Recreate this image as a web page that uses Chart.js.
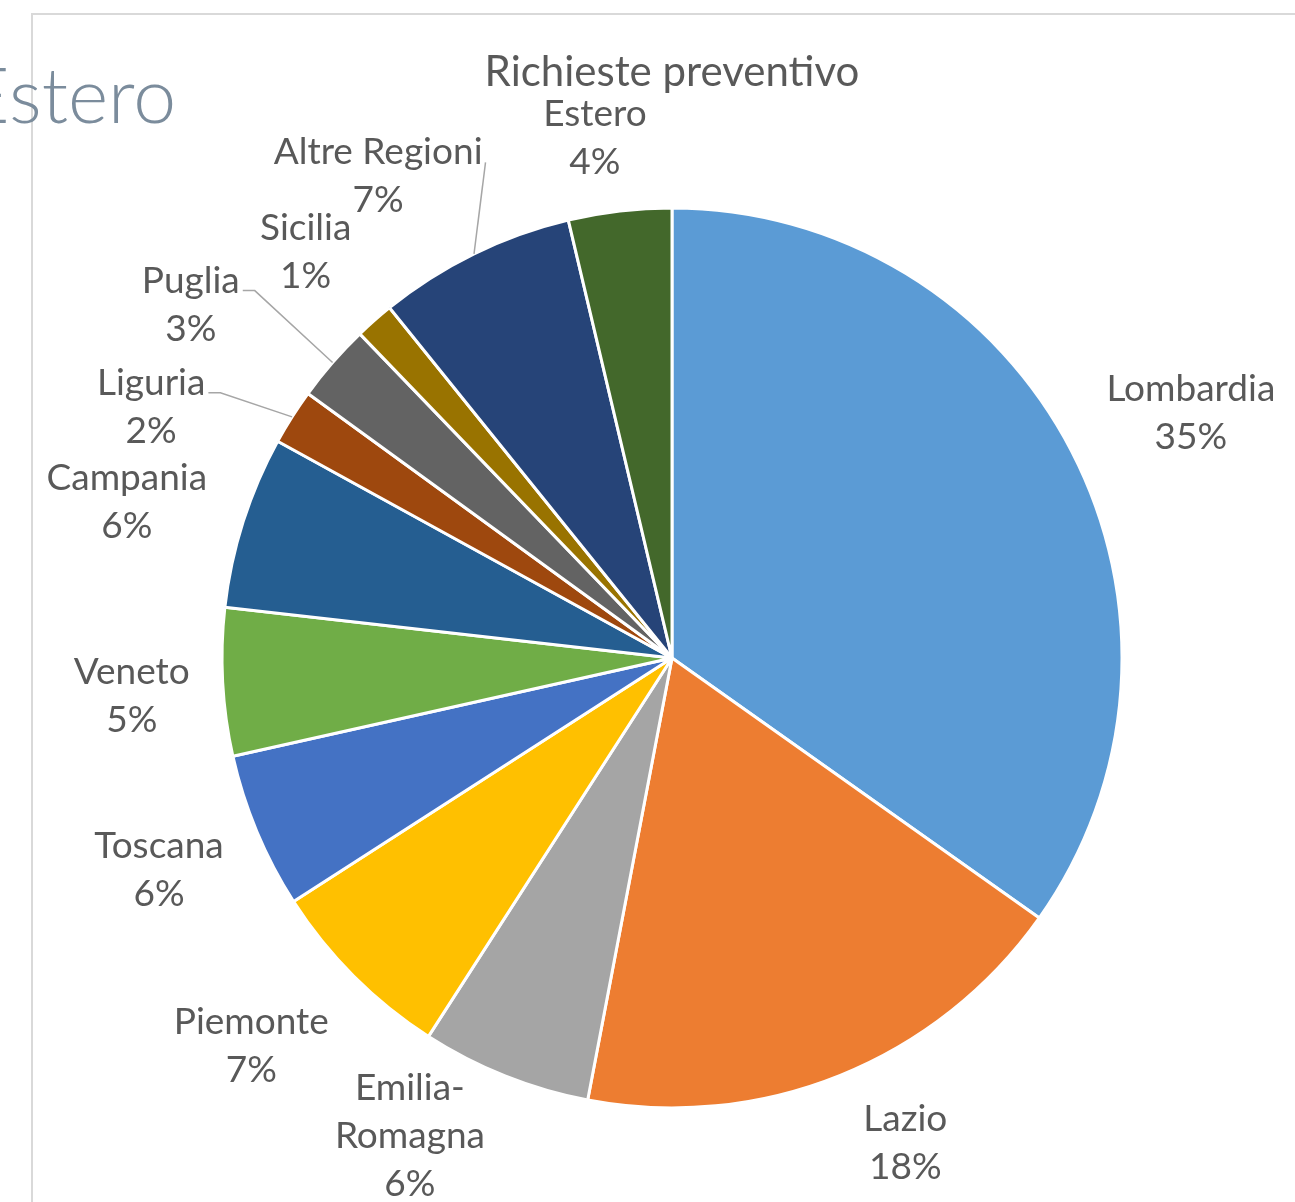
<!DOCTYPE html>
<html lang="it">
<head>
<meta charset="UTF-8">
<title>Richieste preventivo</title>
<script src="https://cdn.jsdelivr.net/npm/chart.js"></script>
<style>
    body { margin: 0; background: #fff; overflow: hidden; }
    .wrap { position: relative; width: 1295px; height: 1202px; overflow: hidden; }
    /* bordo del grafico excel */
    .frame {
        position: absolute; left: 31px; top: 13px; width: 2000px; height: 2000px;
        border-top: 2px solid #d9d9d9; border-left: 2px solid #d9d9d9;
    }
    /* titolo della slide dietro, tagliato */
    .slide-title {
        position: absolute; left: -35px; top: 55px;
        font-family: Lato, sans-serif; font-weight: 300; font-size: 77px; line-height: 1;
        color: #7b8c9c;
    }
    .box { position: absolute; left: 0; top: 0; width: 1295px; height: 1202px; }
</style>
</head>
<body>
<div class="wrap">
    <div class="frame"></div>
    <div class="slide-title">Estero</div>
    <div class="box"><canvas id="myChart"></canvas></div>
</div>
<script>
    const categories = ['Lombardia', 'Lazio', 'Emilia-Romagna', 'Piemonte', 'Toscana', 'Veneto',
        'Campania', 'Liguria', 'Puglia', 'Sicilia', 'Altre Regioni', 'Estero'];
    const values = [34.8, 18.2, 6.1, 6.8, 5.6, 5.3, 6.2, 2.0, 2.8, 1.4, 7.1, 3.7];
    const colors = ['#5B9BD5', '#ED7D31', '#A5A5A5', '#FFC000', '#4472C4', '#70AD47',
        '#255E91', '#9E480E', '#636363', '#997300', '#264478', '#43682B'];
    const chartTitle = 'Richieste preventivo';

    // spostamenti delle etichette affollate (px) e quali hanno la linea guida
    const labelNudge = {
        'Lombardia': [22, -5], 'Lazio': [40, 0], 'Emilia-Romagna': [-58, -30], 'Piemonte': [-30, 18],
        'Toscana': [-15, 10], 'Veneto': [-8, 10], 'Campania': [-16, 3],
        'Liguria': [-74, 29], 'Puglia': [-86, -10], 'Sicilia': [-22, -14], 'Altre Regioni': [-39, -12],
        'Estero': [-16, 0]
    };
    const leaders = ['Liguria', 'Puglia', 'Altre Regioni'];

    const FONT = '37px Lato';
    const LINE_H = 48;
    const GAP = 25;

    const outerLabels = {
        id: 'outerLabels',
        afterDatasetsDraw(chart) {
            const ctx = chart.ctx;
            const meta = chart.getDatasetMeta(0);
            const total = values.reduce((a, b) => a + b, 0);
            ctx.save();
            ctx.font = FONT;
            ctx.fillStyle = '#595959';
            ctx.textAlign = 'center';
            ctx.textBaseline = 'middle';
            meta.data.forEach((arc, i) => {
                const p = arc.getProps(['x', 'y', 'startAngle', 'endAngle', 'outerRadius'], true);
                const mid = (p.startAngle + p.endAngle) / 2;
                const ux = Math.cos(mid), uy = Math.sin(mid);
                const name = categories[i];
                const lines = name.includes('-') ? [name.split('-')[0] + '-', name.split('-')[1]] : [name];
                lines.push(Math.round(values[i] / total * 100) + '%');
                const w = Math.max(...lines.map(l => ctx.measureText(l).width));
                const h = lines.length * LINE_H;
                let cx = p.x + ux * (p.outerRadius + GAP) + ux * w / 2;
                let cy = p.y + uy * (p.outerRadius + GAP) + uy * h / 2;
                const n = labelNudge[name];
                if (n) { cx += n[0]; cy += n[1]; }
                const top = cy - h / 2 + LINE_H / 2;
                lines.forEach((l, k) => ctx.fillText(l, cx, top + k * LINE_H));

                if (leaders.includes(name)) {
                    const w1 = ctx.measureText(lines[0]).width;
                    const sx = cx + w1 / 2 + 3, sy = top + 10;
                    const ex = p.x + ux * p.outerRadius, ey = p.y + uy * p.outerRadius;
                    ctx.beginPath();
                    ctx.strokeStyle = '#a6a6a6';
                    ctx.lineWidth = 1.5;
                    ctx.moveTo(sx, sy);
                    if (ex > sx + 20) ctx.lineTo(sx + 12, sy);
                    ctx.lineTo(ex, ey);
                    ctx.stroke();
                }
            });
            // titolo
            ctx.font = '42px Lato';
            ctx.fillText(chartTitle, meta.data[0].x, 72);
            ctx.restore();
        }
    };

    new Chart(document.getElementById('myChart'), {
        type: 'pie',
        data: {
            labels: categories,
            datasets: [{
                data: values,
                backgroundColor: colors,
                borderColor: '#ffffff',
                borderWidth: 3,
                radius: 450
            }]
        },
        options: {
            responsive: true,
            maintainAspectRatio: false,
            animation: false,
            layout: { padding: { left: 100, right: 51, top: 200, bottom: 86 } },
            plugins: {
                legend: { display: false },
                tooltip: { enabled: false },
                title: { display: false }
            }
        },
        plugins: [outerLabels]
    });
</script>
</body>
</html>
